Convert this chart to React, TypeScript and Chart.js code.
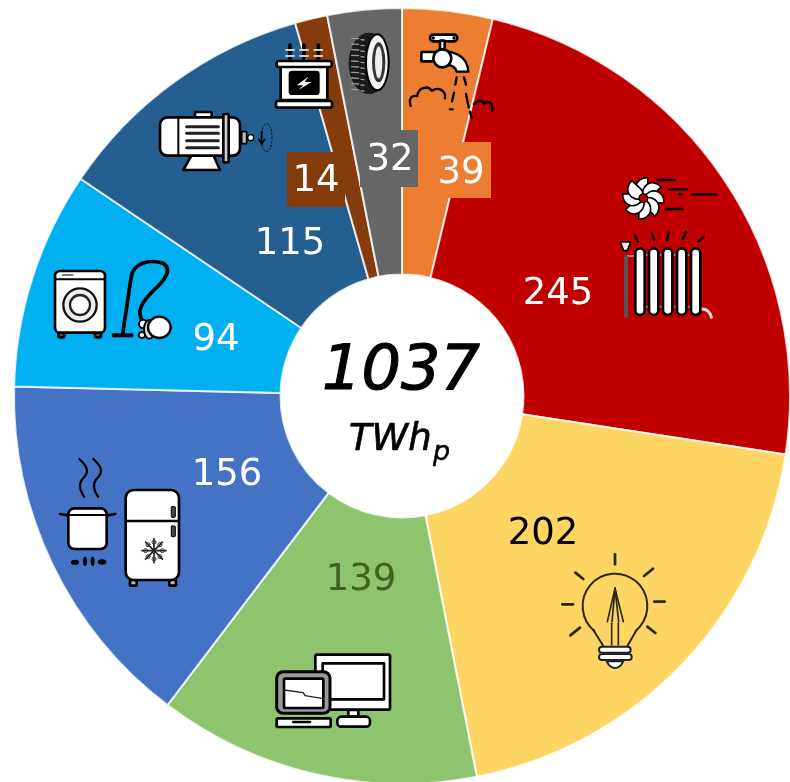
import React, { useEffect, useRef } from "react";
import { Chart, registerables } from "chart.js";

Chart.register(...registerables);

const categories = ["Water", "Heating", "Lighting", "IT", "Cooking and cold", "Appliances", "Motors", "Transformers", "Tyres"];
const values = [39, 245, 202, 139, 156, 94, 115, 14, 32];
const colors = ["#ED7D31", "#C00000", "#FDD562", "#8FC46E", "#4472C4", "#00B0F0", "#255E91", "#843C0C", "#666666"];
const labelColors = ["#FFFFFF", "#FFFFFF", "#000000", "#41621F", "#FFFFFF", "#FFFFFF", "#FFFFFF", "#FFFFFF", "#FFFFFF"];
const labelPos: [number, number][] = [[461, 183], [558, 304], [543, 544], [361, 590], [227, 485], [216, 350], [290, 254], [316, 191], [390, 170]];
const labelBoxes: ([number, number, number, number] | null)[] = [[430, 142, 61, 56], null, null, null, null, null, null, [287, 152, 58, 55], [360, 130, 58, 57]];
const totalLabel = "1037";
const unitLabel = "TWh";
const unitSub = "p";

const FONT = '"DejaVu Sans"';
type C = CanvasRenderingContext2D;

function rr(c: C, x: number, y: number, w: number, h: number, r: number, fill = "#fff", stroke = "#000", lw = 8) {
  c.beginPath();
  c.roundRect(x, y, w, h, r);
  c.fillStyle = fill;
  c.fill();
  if (lw > 0) { c.strokeStyle = stroke; c.lineWidth = lw; c.stroke(); }
}
function seg(c: C, list: number[][], color = "#000", lw = 7) {
  c.strokeStyle = color; c.lineWidth = lw; c.lineCap = "round";
  for (const s of list) { c.beginPath(); c.moveTo(s[0], s[1]); c.lineTo(s[2], s[3]); c.stroke(); }
}
function ell(c: C, x: number, y: number, rx: number, ry: number, fill: string | null, stroke: string | null, lw = 7) {
  c.beginPath(); c.ellipse(x, y, rx, ry, 0, 0, Math.PI * 2);
  if (fill) { c.fillStyle = fill; c.fill(); }
  if (stroke) { c.strokeStyle = stroke; c.lineWidth = lw; c.stroke(); }
}
function poly(c: C, pts: number[][], fill: string, stroke: string | null, lw = 7) {
  c.beginPath(); pts.forEach((p, i) => (i ? c.lineTo(p[0], p[1]) : c.moveTo(p[0], p[1]))); c.closePath();
  c.fillStyle = fill; c.fill();
  if (stroke) { c.strokeStyle = stroke; c.lineWidth = lw; c.lineJoin = "round"; c.stroke(); }
}
function at(c: C, x: number, y: number, fn: () => void) {
  c.save(); c.translate(x, y); c.scale(1 / 3, 1 / 3); c.lineCap = "round"; c.lineJoin = "round"; fn(); c.restore();
}

function icons(c: C) {
  // tap, tyre, transformer
  at(c, 260, 0, () => {
    rr(c, 510, 104, 82, 20, 10);
    ell(c, 520, 114, 5, 5, "#000", null); ell(c, 582, 114, 5, 5, "#000", null);
    rr(c, 540, 122, 14, 30, 2);
    c.beginPath(); c.moveTo(565, 155); c.quadraticCurveTo(622, 165, 625, 215); c.lineTo(590, 215); c.quadraticCurveTo(585, 195, 560, 195); c.closePath();
    c.fillStyle = "#fff"; c.fill(); c.strokeStyle = "#000"; c.lineWidth = 7; c.stroke();
    rr(c, 484, 156, 50, 28, 2);
    ell(c, 547, 175, 27, 27, "#fff", "#000", 8);
    seg(c, [[590, 232, 586, 254], [612, 232, 618, 254], [582, 278, 576, 304], [618, 282, 626, 322], [570, 328, 578, 328], [630, 335, 635, 354]]);
    c.strokeStyle = "#000"; c.lineWidth = 7; c.beginPath();
    c.moveTo(452, 318); c.bezierCurveTo(445, 295, 455, 285, 472, 288); c.bezierCurveTo(475, 262, 505, 255, 515, 272); c.bezierCurveTo(535, 260, 558, 270, 555, 295); c.stroke();
    c.beginPath(); c.moveTo(642, 312); c.bezierCurveTo(655, 298, 668, 300, 672, 312); c.bezierCurveTo(682, 300, 702, 308, 696, 332); c.stroke();

    ell(c, 327, 190, 61, 92, "#1a1a1a", null);
    for (let i = 0; i < 10; i++) {
      const yy = 115 + i * 17;
      seg(c, [[275, yy, 296, yy + 1], [303, yy + 4, 312, yy + 5]], "#999", 4);
    }
    ell(c, 352, 187, 34, 84, "#f4f4f4", "#000", 6);
    ell(c, 356, 187, 20, 60, "#333", null);
    ell(c, 356, 187, 11, 48, "#eee", null);

    for (const x of [90, 132, 175]) {
      seg(c, [[x, 135, x, 180]], "#000", 11);
      seg(c, [[x - 12, 150, x + 12, 150], [x - 12, 168, x + 12, 168]], "#ccc", 6);
    }
    rr(c, 62, 198, 140, 102, 0);
    rr(c, 50, 183, 165, 18, 6);
    rr(c, 48, 303, 168, 20, 6);
    rr(c, 90, 216, 85, 65, 6, "#000");
    poly(c, [[145, 230], [110, 256], [130, 256], [115, 270], [155, 246], [134, 246]], "#fff", null);
  });

  // motor
  at(c, 150, 100, () => {
    rr(c, 135, 36, 50, 24, 3);
    poly(c, [[125, 165], [190, 165], [210, 210], [100, 210]], "#fff", "#000", 8);
    rr(c, 30, 52, 240, 115, 22);
    seg(c, [[85, 55, 85, 165]], "#000", 6);
    seg(c, [[110, 80, 205, 80], [110, 100, 205, 100], [110, 122, 205, 122], [110, 143, 205, 143]], "#222", 9);
    rr(c, 220, 42, 16, 145, 4, "#ccc");
    rr(c, 275, 95, 15, 36, 2, "#bbb", "#000", 5);
    ell(c, 302, 113, 9, 9, "#fff", "#000", 4);
    c.setLineDash([5, 6]);
    ell(c, 350, 113, 16, 42, null, "#111", 3);
    c.setLineDash([]);
    seg(c, [[335, 95, 335, 130], [327, 118, 335, 132], [344, 118, 335, 132]], "#000", 5);
  });

  // fan + radiator
  at(c, 500, 160, () => {
    for (let i = 0; i < 8; i++) {
      c.save(); c.translate(430, 115); c.rotate((i * Math.PI) / 4);
      c.beginPath(); c.moveTo(0, 0); c.bezierCurveTo(-36, -18, -26, -64, 14, -62); c.bezierCurveTo(10, -40, 24, -18, 0, 0); c.closePath();
      c.fillStyle = "#fff"; c.fill(); c.strokeStyle = "#000"; c.lineWidth = 5; c.stroke();
      c.restore();
    }
    ell(c, 430, 115, 13, 13, "#C00000", "#000", 4);
    seg(c, [[472, 60, 525, 60], [507, 88, 560, 88], [537, 103, 544, 103], [577, 103, 650, 103], [497, 147, 547, 147]]);
    seg(c, [[405, 227, 413, 245], [455, 220, 462, 240], [507, 217, 501, 240], [558, 217, 549, 236], [612, 230, 594, 245]], "#000", 7);
    seg(c, [[378, 288, 405, 288], [430, 285, 590, 285], [430, 440, 590, 440]], "#888", 6);
    seg(c, [[378, 290, 378, 468]], "#555", 12);
    poly(c, [[361, 246], [392, 246], [382, 272], [371, 272]], "#eee", "#000", 5);
    c.strokeStyle = "#ddd"; c.lineWidth = 9; c.beginPath(); c.moveTo(602, 447); c.quadraticCurveTo(628, 445, 634, 472); c.stroke();
    for (const x of [420, 461, 503, 545, 587]) rr(c, x - 14, 265, 28, 200, 14);
  });

  // bulb
  at(c, 500, 520, () => {
    const k = "#2b2510";
    seg(c, [[345, 103, 345, 133], [432, 168, 459, 146], [226, 158, 250, 177], [187, 253, 219, 253], [463, 245, 494, 245], [442, 320, 466, 339], [240, 323, 211, 346]], k, 8);
    c.strokeStyle = k; c.lineWidth = 6;
    c.beginPath(); c.arc(345, 258, 97, Math.PI * 0.72, Math.PI * 0.28); c.stroke();
    seg(c, [[280, 330, 310, 378], [410, 330, 382, 378]], k, 6);
    seg(c, [[345, 205, 322, 305], [345, 205, 336, 305], [345, 205, 356, 305], [345, 205, 370, 305], [335, 310, 335, 375], [355, 310, 355, 375]], k, 5);
    rr(c, 297, 380, 95, 18, 9, "#fff", "#222", 6);
    rr(c, 297, 402, 98, 18, 9, "#fff", "#222", 6);
    c.beginPath(); c.moveTo(320, 424); c.lineTo(370, 424); c.quadraticCurveTo(360, 444, 345, 444); c.quadraticCurveTo(330, 444, 320, 424); c.closePath();
    c.fillStyle = "#fff"; c.fill(); c.strokeStyle = "#222"; c.lineWidth = 6; c.stroke();
  });

  // computers
  at(c, 260, 630, () => {
    rr(c, 166, 74, 224, 165, 6);
    rr(c, 188, 100, 184, 108, 0, "#fff", "#000", 8);
    rr(c, 265, 240, 30, 20, 0);
    rr(c, 232, 260, 98, 30, 12);
    rr(c, 50, 125, 160, 125, 20, "#999", "#000", 9);
    rr(c, 72, 146, 118, 88, 3, "#fff", "#000", 8);
    c.strokeStyle = "#222"; c.lineWidth = 4; c.beginPath(); c.moveTo(72, 180); c.lineTo(130, 188); c.lineTo(135, 197); c.lineTo(190, 206); c.stroke();
    rr(c, 50, 265, 162, 26, 4);
    seg(c, [[100, 276, 150, 276]], "#000", 8);
  });

  // pot + fridge
  at(c, 40, 440, () => {
    seg(c, [[60, 222, 85, 226], [202, 226, 226, 222]], "#000", 8);
    rr(c, 85, 205, 115, 122, 18);
    seg(c, [[85, 225, 200, 225]], "#000", 6);
    c.strokeStyle = "#000"; c.lineWidth = 7;
    for (const d of [0, 42]) {
      c.beginPath(); c.moveTo(118 + d, 57); c.bezierCurveTo(155 + d, 90, 140 + d, 105, 125 + d, 120); c.bezierCurveTo(115 + d, 135, 122 + d, 155, 132 + d, 170); c.stroke();
    }
    ell(c, 105, 367, 12, 8, "#000", null);
    ell(c, 135, 364, 6, 14, "#000", null);
    ell(c, 158, 364, 6, 14, "#000", null);
    ell(c, 186, 366, 13, 8, "#000", null);
    rr(c, 270, 420, 20, 17, 3, "#bbb");
    rr(c, 388, 420, 20, 17, 3, "#bbb");
    rr(c, 257, 150, 160, 270, 24);
    seg(c, [[260, 243, 415, 243]], "#000", 7);
    rr(c, 394, 200, 12, 32, 2, "#444", "#000", 3);
    rr(c, 394, 258, 12, 32, 2, "#444", "#000", 3);
    for (let i = 0; i < 4; i++) {
      const a = (i * Math.PI) / 4, dx = Math.cos(a) * 36, dy = Math.sin(a) * 36;
      seg(c, [[342 - dx, 332 - dy, 342 + dx, 332 + dy]], "#222", 5);
      ell(c, 342 + dx * 0.7, 332 + dy * 0.7, 6, 6, null, "#333", 3);
      ell(c, 342 - dx * 0.7, 332 - dy * 0.7, 6, 6, null, "#333", 3);
    }
  });

  // washer + vacuum
  at(c, 40, 240, () => {
    rr(c, 55, 275, 18, 17, 3, "#555");
    rr(c, 165, 275, 18, 17, 3, "#555");
    rr(c, 45, 93, 150, 185, 15);
    seg(c, [[48, 118, 192, 118]], "#000", 6);
    seg(c, [[68, 105, 98, 105]], "#777", 6);
    ell(c, 120, 195, 50, 50, "#eee", "#111", 7);
    ell(c, 120, 195, 30, 30, "#fff", "#222", 7);
    c.strokeStyle = "#000"; c.lineWidth = 11; c.beginPath();
    c.moveTo(248, 282); c.lineTo(273, 115); c.bezierCurveTo(280, 60, 340, 60, 370, 70);
    c.bezierCurveTo(398, 88, 375, 120, 342, 150); c.bezierCurveTo(300, 192, 290, 215, 308, 245); c.stroke();
    rr(c, 217, 281, 62, 10, 2, "#000", "#000", 2);
    ell(c, 310, 252, 13, 13, "#fff", "#000", 6);
    ell(c, 306, 285, 10, 9, "#fff", "#000", 6);
    ell(c, 328, 268, 16, 28, "#ddd", "#000", 6);
    ell(c, 358, 262, 34, 32, "#fff", "#000", 7);
  });
}

function centerText(c: C) {
  c.fillStyle = "#000";
  c.textBaseline = "alphabetic";
  c.textAlign = "center";
  c.font = `oblique 62px ${FONT}`;
  c.fillText(totalLabel, 401, 389);
  c.lineWidth = 1.2; c.strokeStyle = "#000"; c.strokeText(totalLabel, 401, 389);
  c.textAlign = "left";
  c.font = `oblique 37px ${FONT}`;
  c.fillText(unitLabel, 349, 450);
  c.lineWidth = 0.7; c.strokeText(unitLabel, 349, 450);
  c.font = `oblique 27px ${FONT}`;
  c.fillText(unitSub, 433, 460);
  c.lineWidth = 0.5; c.strokeText(unitSub, 433, 460);
}

const overlay = {
  id: "overlay",
  afterDraw(chart: Chart) {
    const c = chart.ctx;
    c.save();
    c.filter = "blur(0.5px)";
    icons(c);
    values.forEach((v, i) => {
      const b = labelBoxes[i];
      if (b) { c.fillStyle = colors[i]; c.fillRect(b[0], b[1], b[2], b[3]); }
    });
    c.font = `37px ${FONT}`;
    c.textAlign = "center";
    c.textBaseline = "alphabetic";
    values.forEach((v, i) => {
      c.fillStyle = labelColors[i];
      c.fillText(String(v), labelPos[i][0], labelPos[i][1]);
    });
    centerText(c);
    c.restore();
  },
};

export default function App() {
  const ref = useRef<HTMLCanvasElement>(null);
  useEffect(() => {
    document.body.style.margin = "0";
    const chart = new Chart(ref.current!, {
      type: "doughnut",
      data: {
        labels: categories,
        datasets: [{ data: values, backgroundColor: colors, borderColor: "rgba(255,255,255,0.8)", borderWidth: 2 }],
      },
      options: {
        animation: false,
        responsive: false,
        cutout: 121.5,
        rotation: 0,
        layout: { padding: { left: 13, top: 7, right: 1, bottom: 7 } },
        plugins: { legend: { display: false }, tooltip: { enabled: false } },
      },
      plugins: [overlay],
    } as any);
    return () => chart.destroy();
  }, []);
  return (
    <div style={{ width: 790, height: 782, overflow: "hidden" }}>
      <canvas ref={ref} width={792} height={792} style={{ display: "block" }} />
    </div>
  );
}
